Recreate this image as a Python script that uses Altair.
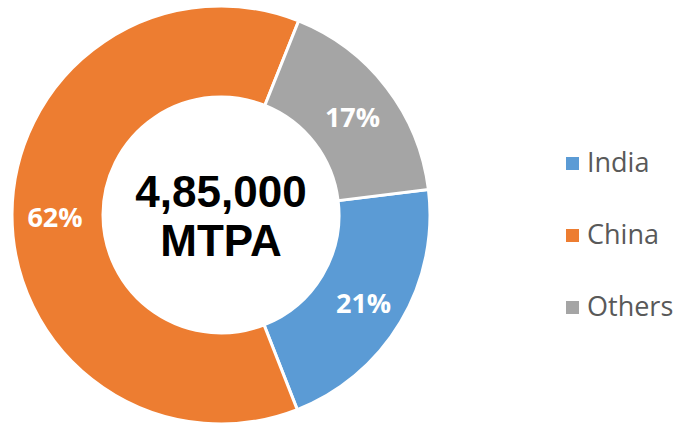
import math
import altair as alt
import pandas as pd

regions = ["India", "China", "Others"]
shares = [21, 62, 17]
labels = ["21%", "62%", "17%"]
colors = ["#5B9BD5", "#ED7D31", "#A5A5A5"]
center_lines = ["4,85,000", "MTPA"]

df = pd.DataFrame({"region": regions, "share": shares, "label": labels,
                   "idx": list(range(len(regions)))})

start = math.radians(83)
theta_scale = alt.Scale(range=[start, start + 2 * math.pi])
color_scale = alt.Scale(domain=regions, range=colors)

CX, CY = 221, 215

base = alt.Chart(df).encode(
    theta=alt.Theta("share:Q", stack=True, scale=theta_scale),
    order=alt.Order("idx:Q"),
    x=alt.value(CX),
    y=alt.value(CY),
)

arcs = base.mark_arc(innerRadius=118, outerRadius=209, stroke="white", strokeWidth=3).encode(
    color=alt.Color(
        "region:N",
        scale=color_scale,
        sort=regions,
        legend=alt.Legend(
            title=None,
            orient="none",
            legendX=559,
            legendY=150,
            symbolType="square",
            symbolSize=169,
            symbolStrokeWidth=0,
            labelFontSize=27,
            labelFont="Open Sans",
            labelColor="#595959",
            labelOffset=1,
            rowPadding=44,
        ),
    )
)

pct = base.mark_text(radius=166, dy=5, font="Open Sans", fontSize=27, fontWeight="bold",
                     color="white").encode(text="label:N")

cdf = pd.DataFrame({"t": center_lines, "yy": [194, 243]})
center = alt.Chart(cdf).mark_text(font="Liberation Sans", fontSize=44, fontWeight="bold",
                                  color="black", baseline="middle").encode(
    text="t:N", x=alt.value(CX), y=alt.Y("yy:Q", scale=None)
)

chart = alt.layer(arcs, pct, center).properties(
    width=680, height=427, autosize=alt.AutoSizeParams(type="none"), padding=0
).configure_view(stroke=None)

chart.save("out.html", embed_options={"renderer": "svg", "actions": False})
